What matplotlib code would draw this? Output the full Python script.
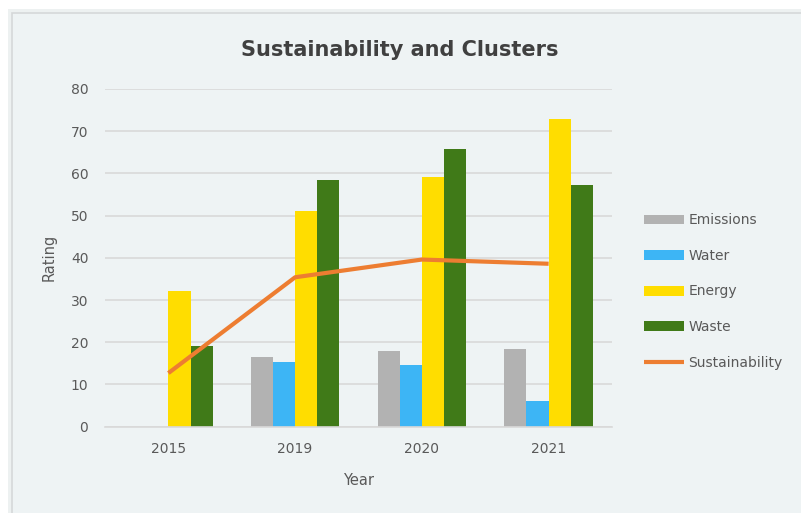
import numpy as np
import matplotlib.pyplot as plt
from matplotlib.patches import Rectangle

# cluster ratings per year (no emissions/water data for 2015)
years = ["2015", "2019", "2020", "2021"]
emissions = [np.nan, 16.5, 18.0, 18.4]
water = [np.nan, 15.4, 14.7, 6.1]
energy = [32.1, 51.0, 59.1, 72.8]
waste = [19.0, 58.4, 65.9, 57.2]
sustainability = [12.7, 35.4, 39.6, 38.6]

series = [("Emissions", emissions, "#B2B2B2"),
          ("Water", water, "#3DB5F5"),
          ("Energy", energy, "#FFDD00"),
          ("Waste", waste, "#407A18")]

bg = "#EEF3F4"
txt = "#595959"
grid = "#D9D9D9"

W, H = 801, 513
fig = plt.figure(figsize=(W / 100, H / 100), dpi=100, facecolor="white")

# chart area panel with its thin border
fig.patches.append(Rectangle((8 / W, 0), 1, 1 - 9 / H, transform=fig.transFigure,
                             facecolor="#EDF1F1", edgecolor="none", zorder=-10))
fig.patches.append(Rectangle((12 / W, -0.01), 1, 1 - 12.5 / H + 0.01, transform=fig.transFigure,
                             facecolor=bg, edgecolor="#D5D8D9", linewidth=1.2, zorder=-9))

ax = fig.add_axes([105 / W, (H - 426.7) / H, (612 - 105) / W, (426.7 - 89) / H])
ax.set_facecolor("none")

x = np.arange(len(years))
width = 0.175
handles = []
for i, (name, vals, col) in enumerate(series):
    b = ax.bar(x + (i - 1.5) * width, vals, width, color=col, label=name, zorder=2)
    handles.append(b)

ln, = ax.plot(x, sustainability, color="#ED7D31", linewidth=3, label="Sustainability",
              solid_capstyle="butt", zorder=3)
handles.append(ln)

ax.set_xlim(-0.5, 3.5)
ax.set_ylim(0, 80)
ax.set_yticks(range(0, 81, 10))
ax.set_xticks(x)
ax.set_xticklabels(years)
ax.yaxis.grid(True, color=grid, linewidth=1.2, zorder=0)
ax.set_axisbelow(True)
for s in ["top", "right", "left"]:
    ax.spines[s].set_visible(False)
ax.spines["bottom"].set_color(grid)
ax.spines["bottom"].set_linewidth(1.2)
ax.tick_params(length=0, labelsize=10, labelcolor=txt)
ax.tick_params(axis="y", pad=12)
ax.tick_params(axis="x", pad=11)

ax.set_xlabel("Year", fontsize=10.5, color=txt, labelpad=12)
ax.set_ylabel("Rating", fontsize=10.5, color=txt, labelpad=10)

fig.text(400 / W, 1 - 50 / H, "Sustainability and Clusters", ha="center", va="center",
         fontsize=15, fontweight="bold", color="#404040")

ax.legend(handles=handles, loc="center left", bbox_to_anchor=(637 / W, (H - 291.5) / H),
          bbox_transform=fig.transFigure, frameon=False, fontsize=10,
          handlelength=2.9, handletextpad=0.3, labelspacing=1.55,
          borderpad=0, labelcolor=txt)

fig.savefig("out.png", dpi=100, facecolor=fig.get_facecolor())
